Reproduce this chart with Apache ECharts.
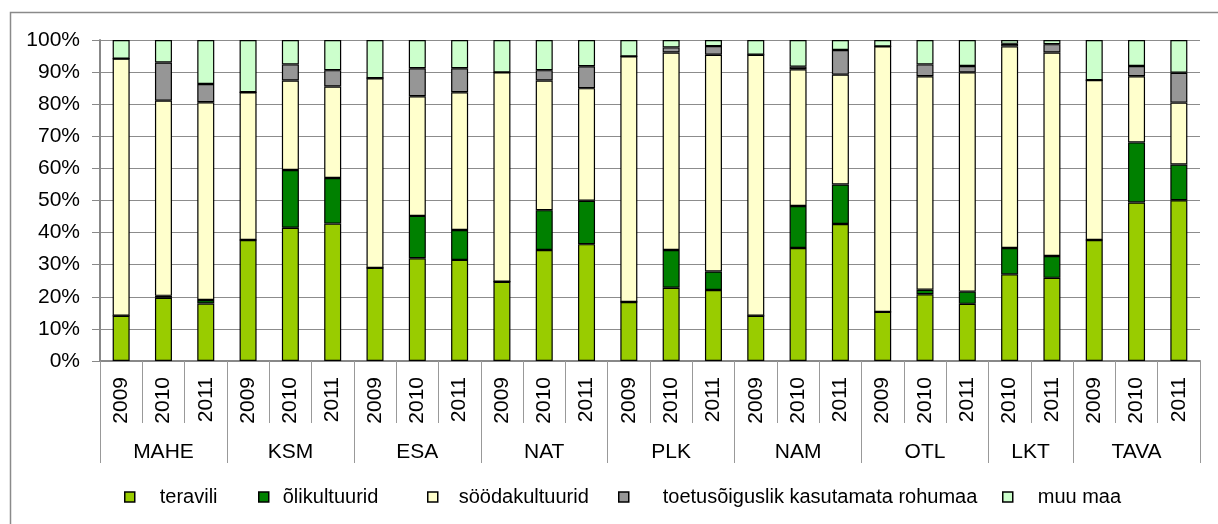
<!DOCTYPE html>
<html>
<head>
<meta charset="utf-8">
<script src="https://cdn.jsdelivr.net/npm/echarts@6/dist/echarts.min.js"></script>
<style>html,body{margin:0;padding:0;background:#fff}#c{width:1218px;height:524px}</style>
</head>
<body>
<div id="c"></div>
<script>
var years = ['2009','2010','2011','2009','2010','2011','2009','2010','2011','2009','2010','2011','2009','2010','2011','2009','2010','2011','2009','2010','2011','2010','2011','2009','2010','2011'];
var groupNames = ['MAHE','KSM','ESA','NAT','PLK','NAM','OTL','LKT','TAVA'];
var groupSizes = [3,3,3,3,3,3,3,2,3];
var seriesNames = ['teravili','õlikultuurid','söödakultuurid','toetusõiguslik kasutamata rohumaa','muu maa'];
var yTickLabels = ['0%','10%','20%','30%','40%','50%','60%','70%','80%','90%','100%'];

var teravili = [14.1,19.7,17.9, 37.7,41.5,42.8, 29.0,32.0,31.5, 24.7,34.6,36.4, 18.4,22.8,22.1, 14.1,35.2,42.7, 15.3,20.8,17.8, 27.0,25.9, 37.7,49.4,50.1];
var olikultuurid = [0,0.6,1.1, 0,18.0,14.2, 0,13.2,9.3, 0,12.4,13.5, 0,11.8,5.8, 0,13.1,12.3, 0,1.4,3.8, 8.2,6.8, 0,18.7,11.1];
var soodakultuurid = [80.1,60.8,61.6, 46.0,27.9,28.5, 59.1,37.3,42.9, 65.2,40.4,35.1, 76.5,61.5,67.5, 81.3,42.6,34.2, 82.7,66.5,68.3, 62.8,63.4, 49.8,20.6,19.3];
var toetus = [0,11.9,5.7, 0,5.0,5.1, 0,8.7,7.5, 0,3.2,6.8, 0,1.6,2.7, 0,0.8,7.7, 0,3.7,2.0, 0.8,2.6, 0,3.2,9.3];
var muuMaa = [5.8,7.0,13.7, 16.3,7.6,9.4, 11.9,8.8,8.8, 10.1,9.4,8.2, 5.1,2.3,1.9, 4.6,8.3,3.1, 2.0,7.6,8.1, 1.2,1.3, 12.5,8.1,10.2];

var colors = ['#99CC00','#008000','#FFFFCC','#969696','#CCFFCC'];
var seriesData = [teravili, olikultuurid, soodakultuurid, toetus, muuMaa];

var groupPerCat = [], groupStart = {}, groupCenterIdx = {}, groupCenterShift = {};
var idx = 0;
groupNames.forEach(function(g, gi){
  var n = groupSizes[gi];
  groupStart[idx] = true;
  var c = Math.floor((n - 1) / 2);
  groupCenterIdx[idx + c] = g;
  groupCenterShift[idx + c] = (n % 2 === 0);
  for (var k = 0; k < n; k++) groupPerCat.push(g);
  idx += n;
});

var FONT = '"Liberation Sans", Arial, sans-serif';
var FS = 21;
var LFS = 20;
var chart = echarts.init(document.getElementById('c'), null, {renderer: 'canvas'});

var legendLeft = [124, 258, 427, 618, 1002];
var legendPad = [20, 9, 16, 29, 20];

var option = {
  animation: false,
  backgroundColor: '#fff',
  textStyle: {fontFamily: FONT},
  grid: {left: 100, right: 18, top: 40, bottom: 163, containLabel: false, outerBoundsMode: 'none'},
  graphic: [{
    type: 'rect', silent: true,
    shape: {x: 10.5, y: 12.5, width: 1230, height: 530},
    style: {fill: 'none', stroke: '#8a8a8a', lineWidth: 1.5}
  }],
  legend: seriesNames.map(function(n, i){
    return {
      data: [n], left: legendLeft[i], top: 487, padding: 0,
      icon: 'rect', itemWidth: 10, itemHeight: 10,
      itemStyle: {borderColor: '#000', borderWidth: 1.5},
      formatter: '{p|' + n + '}',
      textStyle: {fontFamily: FONT, fontSize: LFS, color: '#000',
        rich: {p: {fontFamily: FONT, fontSize: LFS, color: '#000', padding: [0, 0, 0, legendPad[i]]}}},
      selectedMode: false
    };
  }),
  xAxis: [{
    type: 'category', data: years, position: 'bottom', gridIndex: 0,
    axisLine: {show: true, lineStyle: {color: '#888', width: 2}},
    axisTick: {show: true, interval: 0, length: 62, lineStyle: {color: '#999', width: 1}},
    axisLabel: {interval: 0, rotate: 90, margin: 16, fontSize: FS, color: '#000', fontFamily: FONT},
    splitLine: {show: false}
  }, {
    type: 'category', data: groupPerCat, position: 'bottom', gridIndex: 0,
    axisLine: {show: false},
    axisTick: {show: true, length: 102, interval: function(i){ return !!groupStart[i]; }, lineStyle: {color: '#999', width: 1}},
    axisLabel: {
      interval: 0, margin: 81, fontSize: FS, color: '#000', fontFamily: FONT,
      formatter: function(v, i){
        if (groupCenterIdx[i] === undefined) return '';
        return groupCenterShift[i] ? '{s|' + v + '}' : v;
      },
      rich: {s: {fontSize: FS, color: '#000', fontFamily: FONT, padding: [0, 0, 0, 42]}}
    },
    splitLine: {show: false}
  }],
  yAxis: {
    type: 'value', min: 0, max: 100, interval: 10,
    axisLine: {show: true, lineStyle: {color: '#888', width: 2}},
    axisTick: {show: true, length: 8, lineStyle: {color: '#888', width: 1}},
    axisLabel: {margin: 20, fontSize: FS, color: '#000', fontFamily: FONT,
      formatter: function(v){ return yTickLabels[Math.round(v / 10)]; }},
    splitLine: {show: true, lineStyle: {color: '#8c8c8c', width: 1}}
  },
  series: seriesNames.map(function(n, i){
    return {
      name: n, type: 'bar', stack: 'all', xAxisIndex: 0,
      barWidth: 17,
      data: seriesData[i],
      itemStyle: {color: colors[i], borderColor: '#000', borderWidth: 1.2}
    };
  })
};
chart.setOption(option);
</script>
</body>
</html>
